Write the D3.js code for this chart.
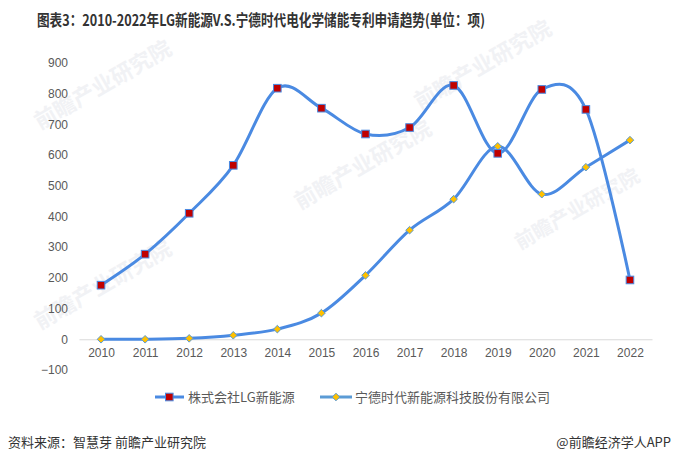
<!DOCTYPE html>
<html><head><meta charset="utf-8">
<script src="https://cdn.jsdelivr.net/npm/d3@7"></script>
<style>
html,body{margin:0;padding:0;background:#fff;}
svg{display:block;font-family:"Liberation Sans","Noto Sans CJK SC",sans-serif;}
</style></head>
<body>
<svg id="chart" width="673" height="464"></svg>
<script>
const years = ["2010","2011","2012","2013","2014","2015","2016","2017","2018","2019","2020","2021","2022"];
const lgValues = [176, 277, 410, 566, 817, 752, 668, 689, 826, 605, 813, 748, 193];
const catlValues = [0, 0, 3, 13, 33, 85, 208, 355, 456, 628, 472, 560, 648];
const yTicks = [-100, 0, 100, 200, 300, 400, 500, 600, 700, 800, 900];
const seriesNames = ["株式会社LG新能源", "宁德时代新能源科技股份有限公司"];
const titleText = "图表3：2010-2022年LG新能源V.S.宁德时代电化学储能专利申请趋势(单位：项)";
const sourceText = "资料来源：智慧芽 前瞻产业研究院";
const brandText = "@前瞻经济学人APP";

const svg = d3.select("#chart");
const lineColor = "#4a8ae2";

// watermarks (faint)
const wm = svg.append("g").attr("fill", "#f1f2f5").attr("font-weight", "bold")
  .attr("font-family", "'Noto Sans CJK SC',sans-serif");
[[40,130,22],[420,110,22],[520,250,20],[40,330,22],[300,210,22]].forEach(([x,y,s])=>{
  wm.append("text").attr("transform",`translate(${x},${y}) rotate(-30)`).attr("font-size",s).text("前瞻产业研究院");
});

// title
svg.append("text").attr("x", 37).attr("y", 26).attr("font-size", 15.5).attr("font-weight", "bold")
  .attr("fill", "#333").attr("font-family", "'Noto Sans CJK SC','Liberation Sans',sans-serif")
  .attr("textLength", 448).attr("lengthAdjust", "spacingAndGlyphs").text(titleText);

const x = d3.scalePoint().domain(years).range([79, 652]).padding(0.5);
const y = d3.scaleLinear().domain([-100, 900]).range([370, 62.7]);

// y axis
const yAxis = d3.axisLeft(y).tickValues(yTicks).tickSize(0).tickPadding(0)
  .tickFormat(d => d < 0 ? "\u2212" + Math.abs(d) : d);
const yg = svg.append("g").attr("transform", "translate(68,0)").call(yAxis);
yg.select(".domain").remove();
yg.selectAll("text").attr("font-size", 12).attr("fill", "#595959").attr("font-family", "'Liberation Sans',sans-serif");

// x axis at zero
const xAxis = d3.axisBottom(x).tickSize(0).tickPadding(9);
const xg = svg.append("g").attr("transform", `translate(0,${y(0)})`).call(xAxis);
xg.select(".domain").attr("stroke", "#d9d9d9").attr("stroke-width", 1);
xg.selectAll("text").attr("font-size", 12).attr("fill", "#595959").attr("font-family", "'Liberation Sans',sans-serif");

const curve = d3.curveCardinal.tension(0);
const line = d3.line().x((d,i)=>x(years[i])).y(d=>y(d)).curve(curve);

svg.append("path").attr("d", line(catlValues)).attr("fill", "none").attr("stroke", lineColor).attr("stroke-width", 3);
svg.append("path").attr("d", line(lgValues)).attr("fill", "none").attr("stroke", lineColor).attr("stroke-width", 3);

// markers
const diamond = (cx, cy, r) => `M${cx},${cy-r}L${cx+r},${cy}L${cx},${cy+r}L${cx-r},${cy}Z`;
svg.append("g").selectAll("path").data(catlValues).join("path")
  .attr("d", (d,i)=>diamond(x(years[i]), y(d), 3.8))
  .attr("fill", "#ffc000").attr("stroke", "#5b9bd5").attr("stroke-width", 1);
svg.append("g").selectAll("rect").data(lgValues).join("rect")
  .attr("x", (d,i)=>x(years[i]) - 3.8).attr("y", d=>y(d) - 3.8)
  .attr("width", 7.6).attr("height", 7.6)
  .attr("fill", "#c00000").attr("stroke", "#4a8ae2").attr("stroke-width", 1);

// legend
const ly = 397;
const lg = svg.append("g").attr("font-family", "'Noto Sans CJK SC',sans-serif").attr("font-size", 13).attr("fill", "#595959");
lg.append("line").attr("x1", 155).attr("x2", 184).attr("y1", ly).attr("y2", ly).attr("stroke", lineColor).attr("stroke-width", 3);
lg.append("rect").attr("x", 165.5).attr("y", ly-3.8).attr("width", 7.6).attr("height", 7.6).attr("fill", "#c00000").attr("stroke", lineColor);
lg.append("text").attr("x", 188).attr("y", ly + 4.5).text(seriesNames[0]);
lg.append("line").attr("x1", 320).attr("x2", 352).attr("y1", ly).attr("y2", ly).attr("stroke", "#5b9bd5").attr("stroke-width", 3);
lg.append("path").attr("d", diamond(336, ly, 3.8)).attr("fill", "#ffc000").attr("stroke", "#5b9bd5");
lg.append("text").attr("x", 355).attr("y", ly + 4.5).text(seriesNames[1]);

// footer
svg.append("text").attr("x", 8).attr("y", 447).attr("font-size", 13).attr("fill", "#333")
  .attr("font-family", "'Noto Sans CJK SC',sans-serif").text(sourceText);
svg.append("text").attr("x", 671).attr("y", 447).attr("text-anchor", "end").attr("font-size", 13).attr("fill", "#333")
  .attr("font-family", "'Noto Sans CJK SC',sans-serif").text(brandText);
</script>
</body></html>
